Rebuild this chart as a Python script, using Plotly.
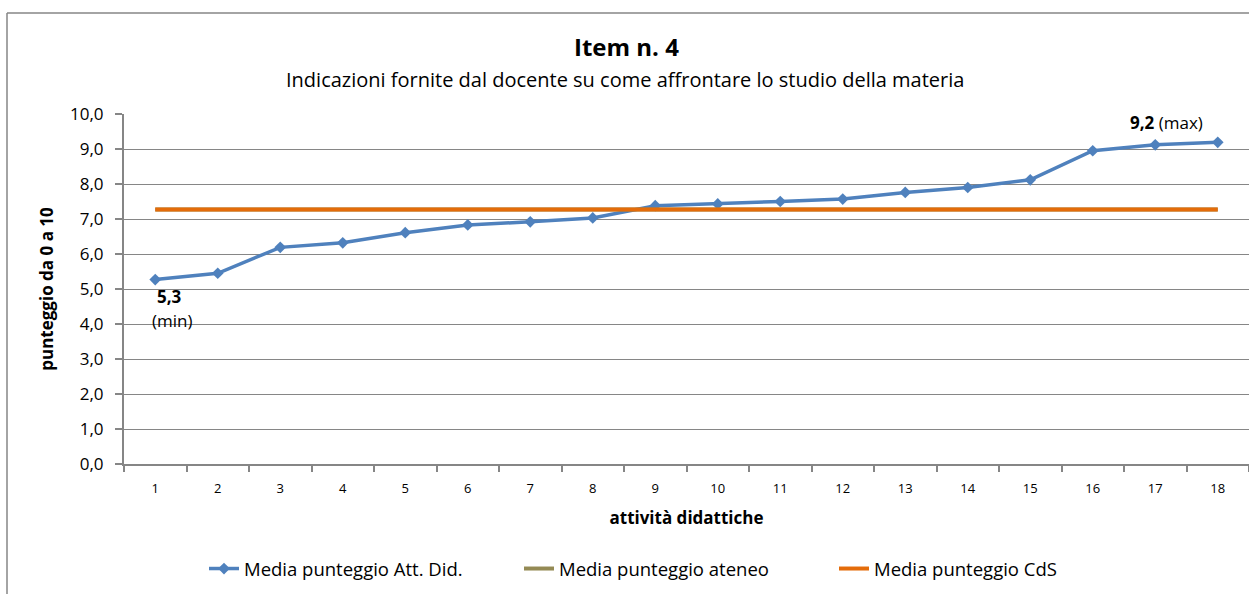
import plotly.graph_objects as go

categories = [str(i) for i in range(1, 19)]
media_att = [5.27, 5.45, 6.19, 6.32, 6.61, 6.83, 6.92, 7.03, 7.38, 7.43, 7.50, 7.57, 7.76, 7.90, 8.12, 8.95, 9.12, 9.19]
media_ateneo = [7.27] * 18
media_cds = [7.27] * 18
y_ticks = [0, 1, 2, 3, 4, 5, 6, 7, 8, 9, 10]

FONT = "Open Sans"
W, H = 1249, 594
L, R, T, B = 124, 0, 114, 130
pw, ph = W - L - R, H - T - B

def px(x):
    return (x - L) / pw

def py(y):
    return (H - B - y) / ph

fig = go.Figure()
fig.add_trace(go.Scatter(x=categories, y=media_att, mode="lines+markers",
                         name="Media punteggio Att. Did.",
                         line=dict(color="#4F81BD", width=3.5),
                         marker=dict(symbol="diamond", size=9, color="#4F81BD")))
fig.add_trace(go.Scatter(x=categories, y=media_ateneo, mode="lines",
                         name="Media punteggio ateneo",
                         line=dict(color="#948A54", width=4)))
fig.add_trace(go.Scatter(x=categories, y=media_cds, mode="lines",
                         name="Media punteggio CdS",
                         line=dict(color="#E46C0A", width=4)))

fig.update_layout(
    width=W, height=H,
    margin=dict(l=L, r=R, t=T, b=B, autoexpand=False),
    paper_bgcolor="white", plot_bgcolor="white",
    separators=",.",
    font=dict(family=FONT, color="#000000"),
    showlegend=True,
    legend=dict(orientation="h", x=px(204), xanchor="left", y=py(569), yanchor="middle",
                font=dict(size=18.5, family=FONT), entrywidth=270, entrywidthmode="pixels",
                traceorder="normal", bgcolor="rgba(0,0,0,0)"),
    xaxis=dict(type="category", showgrid=False, showline=True, linecolor="#868686", linewidth=2,
               ticks="outside", tickson="boundaries", ticklen=6, tickcolor="#868686", tickwidth=1.5,
               tickfont=dict(size=13, family=FONT), range=[-0.5, 17.5], ticklabelstandoff=11,
               title=dict(text="<b>attività didattiche</b>", font=dict(size=17, family=FONT), standoff=17)),
    yaxis=dict(range=[0, 10], tickvals=y_ticks, tickformat=".1f", showgrid=True,
               gridcolor="#868686", gridwidth=1.2, showline=True, linecolor="#868686", linewidth=2,
               ticks="outside", ticklen=7, tickcolor="#868686", tickwidth=1.5, zeroline=False,
               tickfont=dict(size=17, family=FONT), ticklabelstandoff=8,
               title=dict(text="<b>punteggio da 0 a 10</b>", font=dict(size=17, family=FONT), standoff=12)),
)

fig.add_annotation(text="<b>Item n. 4</b>", xref="paper", yref="paper", x=px(626), y=py(47),
                   showarrow=False, font=dict(size=24, family=FONT), xanchor="center", yanchor="middle")
fig.add_annotation(text="Indicazioni fornite dal docente su come affrontare lo studio della materia",
                   xref="paper", yref="paper", x=px(625), y=py(80), showarrow=False,
                   font=dict(size=20, family=FONT), xanchor="center", yanchor="middle")
fig.add_annotation(text="<b>5,3</b>", xref="paper", yref="paper", x=px(169), y=py(296),
                   showarrow=False, font=dict(size=17, family=FONT), xanchor="center", yanchor="middle")
fig.add_annotation(text="(min)", xref="paper", yref="paper", x=px(172), y=py(320),
                   showarrow=False, font=dict(size=17, family=FONT), xanchor="center", yanchor="middle")
fig.add_annotation(text="<b>9,2</b> (max)", xref="paper", yref="paper", x=px(1166), y=py(123),
                   showarrow=False, font=dict(size=17, family=FONT), xanchor="center", yanchor="middle")

# chart frame
fig.add_shape(type="line", xref="paper", yref="paper", x0=px(7), x1=px(7), y0=py(13), y1=py(600),
              line=dict(color="#868686", width=1.5))
fig.add_shape(type="line", xref="paper", yref="paper", x0=px(7), x1=px(1252), y0=py(13), y1=py(13),
              line=dict(color="#868686", width=1.5))

fig.write_html("out.html", config={"displayModeBar": False},
               post_script="document.body.style.margin='0';document.body.style.overflow='hidden';")
